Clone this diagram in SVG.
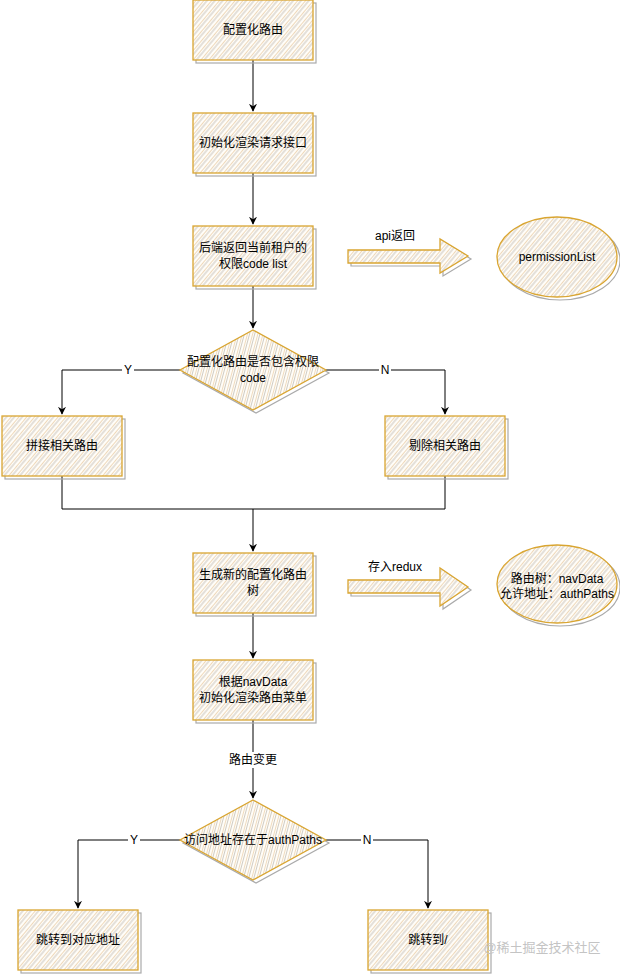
<svg xmlns="http://www.w3.org/2000/svg" width="620" height="975" viewBox="0 0 620 975">
<defs>
<pattern id="hatch" patternUnits="userSpaceOnUse" width="6" height="6" patternTransform="rotate(40)">
<rect width="6" height="6" fill="#fffdf8"/>
<line x1="0" y1="0" x2="0" y2="6" stroke="#e7c9a0" stroke-width="1.4"/>
<line x1="3" y1="0" x2="3" y2="6" stroke="#c9c4bc" stroke-width="1"/>
</pattern>
<pattern id="hatchD" patternUnits="userSpaceOnUse" width="5" height="5" patternTransform="rotate(15)">
<rect width="5" height="5" fill="#fffdf8"/>
<line x1="0" y1="0" x2="0" y2="5" stroke="#e7c9a0" stroke-width="1.3"/>
<line x1="2.5" y1="0" x2="2.5" y2="5" stroke="#cbc6be" stroke-width="0.9"/>
</pattern>
<marker id="arr" viewBox="0 0 10 10" refX="9" refY="5" markerWidth="8" markerHeight="8" orient="auto" markerUnits="userSpaceOnUse">
<path d="M0,0 L10,5 L0,10 L3,5 Z" fill="#000"/>
</marker>
</defs>
<style>
.shadow{fill:none;stroke:#aaa;stroke-width:1.2}
.box{fill:url(#hatch);stroke:#d9a531;stroke-width:1.3}
.dia{fill:url(#hatchD);stroke:#d9a531;stroke-width:1.3}
.t{font-family:"Liberation Sans","Noto Sans CJK SC",sans-serif;font-size:12px;fill:#000;text-anchor:middle}
.lbl{font-family:"Liberation Sans","Noto Sans CJK SC",sans-serif;font-size:12px;fill:#000;text-anchor:middle}
.c{fill:none;stroke:#000;stroke-width:1}
.bg{fill:#fff}
</style>
<rect width="620" height="975" fill="#fff"/>
<g id="connectors">
<path class="c" d="M253,60 V111" marker-end="url(#arr)"/>
<path class="c" d="M253,173 V224" marker-end="url(#arr)"/>
<path class="c" d="M253,286 V328" marker-end="url(#arr)"/>
<path class="c" d="M180,370 H62 V414" marker-end="url(#arr)"/>
<path class="c" d="M326,370 H445 V414" marker-end="url(#arr)"/>
<path class="c" d="M62,476 V509 H445 V476"/>
<path class="c" d="M253,509 V551" marker-end="url(#arr)"/>
<path class="c" d="M253,613 V658" marker-end="url(#arr)"/>
<path class="c" d="M253,720 V798" marker-end="url(#arr)"/>
<path class="c" d="M180,840 H78 V908" marker-end="url(#arr)"/>
<path class="c" d="M326,840 H428 V908" marker-end="url(#arr)"/>
<rect class="bg" x="122" y="362" width="12" height="16"/>
<text class="lbl" x="128" y="374">Y</text>
<rect class="bg" x="379" y="362" width="12" height="16"/>
<text class="lbl" x="385" y="374">N</text>
<rect class="bg" x="227" y="752" width="52" height="16"/>
<text class="lbl" x="253" y="764">路由变更</text>
<rect class="bg" x="128" y="832" width="12" height="16"/>
<text class="lbl" x="134" y="844">Y</text>
<rect class="bg" x="361" y="832" width="12" height="16"/>
<text class="lbl" x="367" y="844">N</text>
</g>
<g id="n1">
<rect class="shadow" x="196" y="3" width="120" height="60"/>
<rect class="box" x="193" y="0" width="120" height="60"/>
<text class="t" x="253" y="34">配置化路由</text>
</g>
<g id="n2">
<rect class="shadow" x="196" y="116" width="120" height="60"/>
<rect class="box" x="193" y="113" width="120" height="60"/>
<text class="t" x="253" y="147">初始化渲染请求接口</text>
</g>
<g id="n3">
<rect class="shadow" x="196" y="229" width="120" height="60"/>
<rect class="box" x="193" y="226" width="120" height="60"/>
<text class="t" x="253" y="252">后端返回当前租户的</text>
<text class="t" x="253" y="268">权限code list</text>
</g>
<g id="a1">
<text class="lbl" x="395" y="240">api返回</text>
<path d="M351,253 H443 V242 L471,259 L443,276 V266 H351 Z" fill="none" stroke="#aaa" stroke-width="1.2"/>
<path class="box" d="M348,250 H440 V239 L468,256 L440,273 V263 H348 Z"/>
</g>
<g id="n4">
<ellipse cx="560" cy="260" rx="60" ry="40" fill="none" stroke="#aaa" stroke-width="1.2"/>
<ellipse class="box" cx="557" cy="257" rx="60" ry="40"/>
<text class="t" x="557" y="261">permissionList</text>
</g>
<g id="n5">
<path class="shadow" d="M256,333 L329,373 L256,413 L183,373 Z"/>
<path class="dia" d="M253,330 L326,370 L253,410 L180,370 Z"/>
<text class="t" x="253" y="366">配置化路由是否包含权限</text>
<text class="t" x="253" y="382">code</text>
</g>
<g id="n6">
<rect class="shadow" x="5" y="419" width="120" height="60"/>
<rect class="box" x="2" y="416" width="120" height="60"/>
<text class="t" x="62" y="450">拼接相关路由</text>
</g>
<g id="n7">
<rect class="shadow" x="388" y="419" width="120" height="60"/>
<rect class="box" x="385" y="416" width="120" height="60"/>
<text class="t" x="445" y="450">剔除相关路由</text>
</g>
<g id="n8">
<rect class="shadow" x="196" y="556" width="120" height="60"/>
<rect class="box" x="193" y="553" width="120" height="60"/>
<text class="t" x="253" y="579">生成新的配置化路由</text>
<text class="t" x="253" y="595">树</text>
</g>
<g id="a2">
<text class="lbl" x="395" y="571">存入redux</text>
<path d="M351,583 H443 V571 L471,590 L443,609 V596 H351 Z" fill="none" stroke="#aaa" stroke-width="1.2"/>
<path class="box" d="M348,580 H440 V568 L468,587 L440,606 V593 H348 Z"/>
</g>
<g id="n9">
<ellipse cx="560" cy="587" rx="60" ry="39" fill="none" stroke="#aaa" stroke-width="1.2"/>
<ellipse class="box" cx="557" cy="584" rx="60" ry="39"/>
<text class="t" x="557" y="583">路由树：navData</text>
<text class="t" x="557" y="598">允许地址：authPaths</text>
</g>
<g id="n10">
<rect class="shadow" x="196" y="663" width="120" height="60"/>
<rect class="box" x="193" y="660" width="120" height="60"/>
<text class="t" x="253" y="686">根据navData</text>
<text class="t" x="253" y="702">初始化渲染路由菜单</text>
</g>
<g id="n11">
<path class="shadow" d="M256,803 L329,843 L256,883 L183,843 Z"/>
<path class="dia" d="M253,800 L326,840 L253,880 L180,840 Z"/>
<text class="t" x="253" y="844">访问地址存在于authPaths</text>
</g>
<g id="n12">
<rect class="shadow" x="21" y="913" width="120" height="60"/>
<rect class="box" x="18" y="910" width="120" height="60"/>
<text class="t" x="78" y="944">跳转到对应地址</text>
</g>
<g id="n13">
<rect class="shadow" x="371" y="913" width="120" height="60"/>
<rect class="box" x="368" y="910" width="120" height="60"/>
<text class="t" x="428" y="944">跳转到/</text>
</g>
<text x="542" y="952" font-family="Liberation Sans,'Noto Sans CJK SC',sans-serif" font-size="13" fill="#c4c4c4" text-anchor="middle">@稀土掘金技术社区</text>
</svg>
